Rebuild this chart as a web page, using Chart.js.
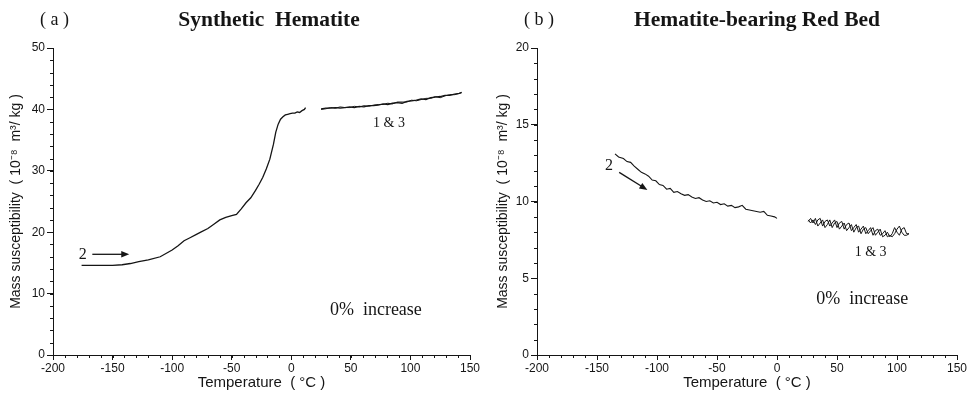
<!DOCTYPE html>
<html>
<head>
<meta charset="utf-8">
<script src="https://cdn.jsdelivr.net/npm/chart.js@4.4.0/dist/chart.umd.min.js"></script>
<style>
  html, body { margin: 0; padding: 0; background: #fff; }
  #wrap { position: relative; width: 974px; height: 395px; }
  canvas { position: absolute; top: 0; }
</style>
</head>
<body>
<div id="wrap">
  <canvas id="ca" width="487" height="395" style="left:0"></canvas>
  <canvas id="cb" width="487" height="395" style="left:487px"></canvas>
</div>
<script>
// ---------- data: panel (a) Synthetic Hematite ----------
const aTemp2 = [-176,-170,-160,-150,-142,-135,-128,-120,-110,-100,-95,-90,-85,-80,-76,-70,-65,-60,-55,-50,-46,-42,-38,-34,-30,-27,-24,-21,-18,-15,-13,-11,-9,-7,-5,-3,-1,1,3,5,7,9,11,12];
const aSusc2 = [14.6,14.6,14.6,14.6,14.7,14.9,15.2,15.5,16.0,17.1,17.8,18.6,19.1,19.6,20.0,20.6,21.3,22.0,22.4,22.7,22.9,23.8,24.8,25.6,26.8,27.8,28.9,30.3,31.9,34.3,36.3,37.6,38.4,38.8,39.1,39.2,39.3,39.4,39.4,39.6,39.5,39.8,40.0,40.3];
const aTemp13 = [25,29,33,37,41,45,49,53,57,61,65,69,73,77,81,85,89,93,97,101,105,109,113,117,121,125,129,133,137,141,143];
const aSusc1 = [40.1,40.2,40.2,40.3,40.2,40.3,40.4,40.3,40.5,40.4,40.6,40.6,40.7,40.9,40.8,41.0,41.1,41.0,41.3,41.4,41.5,41.7,41.6,41.9,42.0,42.1,42.3,42.3,42.5,42.6,42.8];
const aSusc3 = [40.0,40.1,40.3,40.2,40.4,40.3,40.3,40.5,40.4,40.6,40.5,40.7,40.8,40.8,41.0,40.9,41.2,41.2,41.2,41.5,41.4,41.6,41.8,41.8,42.1,41.9,42.2,42.4,42.4,42.6,42.7];

// ---------- data: panel (b) Hematite-bearing Red Bed ----------
const bTemp2 = [-135,-132,-128,-125,-122,-119,-116,-113,-110,-107,-104,-101,-98,-95,-92,-89,-86,-83,-80,-77,-74,-71,-68,-65,-62,-59,-56,-53,-50,-47,-44,-41,-38,-35,-32,-29,-26,-23,-20,-17,-14,-11,-8,-5,-2,0];
const bSusc2 = [13.1,12.9,12.8,12.6,12.55,12.3,12.1,11.9,11.8,11.65,11.4,11.35,11.1,11.05,10.8,10.85,10.6,10.65,10.5,10.4,10.45,10.3,10.2,10.25,10.1,10.0,10.05,9.9,9.95,9.8,9.85,9.7,9.75,9.6,9.65,9.75,9.5,9.45,9.4,9.35,9.3,9.35,9.1,9.05,9.0,8.9];
const bTemp13 = [26,28,30,32,34,36,38,40,42,44,46,48,50,52,54,56,58,60,62,64,66,68,70,72,74,76,78,80,82,84,86,88,90,92,94,96,98,100,102,104,106,108,110];
const bSusc1 = [8.7,8.9,8.6,8.9,8.4,8.6,8.8,8.3,8.5,8.8,8.3,8.6,8.7,8.2,8.4,8.6,8.1,8.3,8.5,8.0,8.3,8.4,7.9,8.2,8.3,7.9,8.1,8.3,7.8,8.0,8.2,7.7,7.8,8.0,7.7,7.9,8.3,8.0,7.8,8.2,8.3,7.9,7.9];
const bSusc3 = [8.8,8.6,8.8,8.5,8.8,8.9,8.4,8.7,8.8,8.4,8.6,8.8,8.3,8.6,8.7,8.2,8.5,8.6,8.1,8.3,8.5,8.0,8.2,8.4,7.9,8.1,8.3,7.8,8.1,8.2,7.8,7.9,8.1,7.7,7.8,7.7,7.9,8.2,8.4,8.0,7.8,7.8,7.9];

// ---------- axis tick definitions ----------
const xTicks = [-200,-150,-100,-50,0,50,100,150];
const aYTicks = [0,10,20,30,40,50];
const bYTicks = [0,5,10,15,20];

const SANS = '"Liberation Sans", Arial, Helvetica, sans-serif';
const SERIF = '"Liberation Serif", "Times New Roman", serif';
const INK = '#151515';

const pts = (xs, ys) => xs.map((x, i) => ({x: x, y: ys[i]}));

const annotPlugin = {
  id: 'annot',
  afterDraw(chart, args, o) {
    const ctx = chart.ctx;
    const xs = chart.scales.x, ys = chart.scales.y;
    const ca = chart.chartArea;
    ctx.save();
    ctx.strokeStyle = INK; ctx.fillStyle = INK; ctx.lineWidth = 1;
    // minor ticks
    ctx.beginPath();
    for (let v = xs.min; v <= xs.max + 1e-9; v += o.minorX) {
      const p = Math.round(xs.getPixelForValue(v)) + 0.5;
      ctx.moveTo(p, ca.bottom); ctx.lineTo(p, ca.bottom + 3);
    }
    for (let v = ys.min; v <= ys.max + 1e-9; v += o.minorY) {
      const p = Math.round(ys.getPixelForValue(v)) + 0.5;
      ctx.moveTo(ca.left - 3, p); ctx.lineTo(ca.left, p);
    }
    ctx.stroke();
    // panel letter and title
    ctx.textBaseline = 'middle';
    ctx.textAlign = 'left';
    ctx.font = '18px ' + SERIF;
    ctx.fillText(o.letter, o.letterX, 20);
    ctx.textAlign = 'center';
    ctx.font = 'bold 21.5px ' + SERIF;
    ctx.fillText(o.title, o.titleX, 20);
    // axis titles
    ctx.font = '15px ' + SANS;
    ctx.fillText('Temperature  ( \u00B0C )', (ca.left + ca.right) / 2, 383);
    ctx.save();
    ctx.translate(16, (ca.top + ca.bottom) / 2);
    ctx.rotate(-Math.PI / 2);
    ctx.font = '14px ' + SANS;
    ctx.fillText('Mass susceptibility  ( 10\u207B\u2078  m\u00B3/ kg )', 0, 0);
    ctx.restore();
    // in-plot texts
    for (const t of o.texts) {
      ctx.font = t.font;
      ctx.textAlign = t.align || 'center';
      ctx.fillText(t.text, xs.getPixelForValue(t.x), ys.getPixelForValue(t.y));
    }
    // arrows
    for (const a of o.arrows) {
      const x0 = xs.getPixelForValue(a.x0), y0 = ys.getPixelForValue(a.y0);
      const x1 = xs.getPixelForValue(a.x1), y1 = ys.getPixelForValue(a.y1);
      const ang = Math.atan2(y1 - y0, x1 - x0);
      ctx.lineWidth = 1.3;
      ctx.beginPath(); ctx.moveTo(x0, y0);
      ctx.lineTo(x1 - 6 * Math.cos(ang), y1 - 6 * Math.sin(ang)); ctx.stroke();
      ctx.beginPath();
      ctx.moveTo(x1, y1);
      ctx.lineTo(x1 - 8 * Math.cos(ang) + 3.2 * Math.sin(ang), y1 - 8 * Math.sin(ang) - 3.2 * Math.cos(ang));
      ctx.lineTo(x1 - 8 * Math.cos(ang) - 3.2 * Math.sin(ang), y1 - 8 * Math.sin(ang) + 3.2 * Math.cos(ang));
      ctx.closePath(); ctx.fill();
    }
    ctx.restore();
  }
};

function lineDs(data, w) {
  return { data: data, borderColor: INK, borderWidth: w, pointRadius: 0, tension: 0, fill: false };
}

function makeChart(id, cfg) {
  return new Chart(document.getElementById(id), {
    type: 'line',
    data: { datasets: cfg.datasets },
    plugins: [annotPlugin],
    options: {
      responsive: false,
      animation: false,
      events: [],
      layout: { padding: { left: 0, right: 17, top: 48, bottom: 0 } },
      plugins: {
        legend: { display: false },
        tooltip: { enabled: false },
        annot: cfg.annot
      },
      scales: {
        x: {
          type: 'linear', min: -200, max: 150,
          afterBuildTicks: s => { s.ticks = xTicks.map(v => ({value: v})); },
          ticks: { font: { family: SANS, size: 12 }, color: INK, padding: 1, maxRotation: 0, autoSkip: false },
          grid: { drawOnChartArea: false, drawTicks: true, tickLength: 5, color: INK, lineWidth: 1 },
          border: { color: INK, width: 1 },
          afterFit: s => { s.height = 40; }
        },
        y: {
          type: 'linear', min: 0, max: cfg.yMax,
          afterBuildTicks: s => { s.ticks = cfg.yTicks.map(v => ({value: v})); },
          ticks: { font: { family: SANS, size: 12 }, color: INK, padding: 2, autoSkip: false },
          grid: { drawOnChartArea: false, drawTicks: true, tickLength: 6, color: INK, lineWidth: 1 },
          border: { color: INK, width: 1 },
          afterFit: s => { s.width = cfg.yWidth; }
        }
      }
    }
  });
}

makeChart('ca', {
  yMax: 50, yTicks: aYTicks, yWidth: 53,
  datasets: [
    lineDs(pts(aTemp2, aSusc2), 1.3),
    lineDs(pts(aTemp13, aSusc1), 1.3),
    lineDs(pts(aTemp13, aSusc3), 1.0)
  ],
  annot: {
    minorX: 10, minorY: 2,
    letter: '( a )', letterX: 40,
    title: 'Synthetic  Hematite', titleX: 269,
    texts: [
      { text: '2', x: -175, y: 16.4, font: '16px ' + SERIF },
      { text: '1 & 3', x: 82, y: 37.8, font: '14px ' + SERIF },
      { text: '0%  increase', x: 71, y: 7.3, font: '18px ' + SERIF }
    ],
    arrows: [ { x0: -167, y0: 16.4, x1: -136, y1: 16.4 } ]
  }
});

makeChart('cb', {
  yMax: 20, yTicks: bYTicks, yWidth: 50,
  datasets: [
    lineDs(pts(bTemp2, bSusc2), 1.1),
    lineDs(pts(bTemp13, bSusc1), 1.0),
    lineDs(pts(bTemp13, bSusc3), 1.0)
  ],
  annot: {
    minorX: 10, minorY: 1,
    letter: '( b )', letterX: 37,
    title: 'Hematite-bearing Red Bed', titleX: 270,
    texts: [
      { text: '2', x: -140, y: 12.3, font: '16px ' + SERIF },
      { text: '1 & 3', x: 78, y: 6.7, font: '14px ' + SERIF },
      { text: '0%  increase', x: 71, y: 3.6, font: '18px ' + SERIF }
    ],
    arrows: [ { x0: -131.5, y0: 11.9, x1: -108, y1: 10.75 } ]
  }
});
</script>
</body>
</html>
